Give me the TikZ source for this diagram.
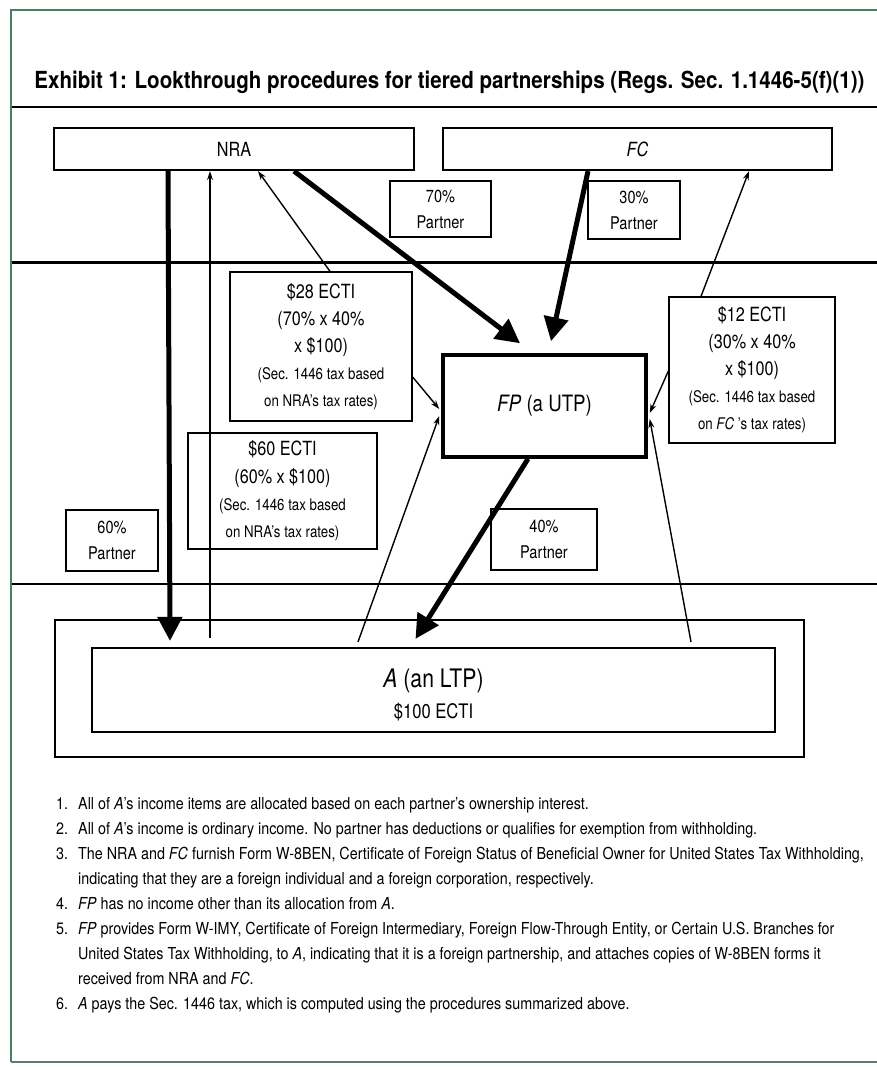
\documentclass[tikz,border=0pt]{standalone}
\usepackage{fontspec}
\setmainfont{TeX Gyre Heros}[FakeStretch=0.83]
\newfontfamily\notefont{TeX Gyre Heros}[FakeStretch=0.868]
\newfontfamily\titlefont{TeX Gyre Heros}[FakeStretch=0.875]
\usetikzlibrary{arrows.meta}
\definecolor{framegreen}{RGB}{70,128,92}
\newcommand{\bigtxt}{\fontsize{19.5}{27}\selectfont}
\newcommand{\smalltxt}{\fontsize{16}{22}\selectfont}
\newcommand{\parttxt}{\fontsize{17.5}{26}\selectfont}
\tikzset{
  party/.style={draw, line width=2.2pt, minimum height=42pt, inner sep=0pt, font=\bigtxt},
  share/.style={draw, line width=1.3pt, inner sep=0pt, align=center, font=\parttxt},
  ecti/.style={draw, line width=1.3pt, inner sep=0pt, align=center, font=\bigtxt},
  fatarrow/.style={line width=5pt, -{Triangle[length=24pt,width=24pt]}},
  thinarrow/.style={line width=1.4pt, -{Stealth[length=9pt,width=6pt]}},
  divider/.style={line width=2pt}
}
\begin{document}
\begin{tikzpicture}[x=1pt,y=-1pt]
    \useasboundingbox (0,0) rectangle (877,1067);
    % frame and rules
    \draw[framegreen, line width=2.5pt] (877,10) -- (11,10) -- (11,1062);
    \draw[framegreen!60!gray, line width=2pt] (11,1062) -- (877,1062);
    \draw[divider] (12,107) -- (877,107);
    \draw[divider, line width=3pt] (12,262) -- (877,262);
    \draw[divider] (12,584) -- (877,584);

    \node[font=\titlefont\fontsize{23.5}{28}\selectfont\bfseries] (title) at (449.5,82)
        {Exhibit 1: Lookthrough procedures for tiered partnerships (Regs. Sec. 1.1446-5(f)(1))};

    % partners
    \node[party, minimum width=360pt] (NRA) at (234,149) {NRA};
    \node[party, minimum width=389pt] (FC) at (637.5,149) {\textit{FC}};
    \node[share, minimum width=101pt, minimum height=56pt] (p70) at (440.5,209) {70\%\\Partner};
    \node[share, minimum width=92pt, minimum height=58pt] (p30) at (634,210) {30\%\\Partner};

    % upper tier partnership
    \node[draw, line width=3.5pt, minimum width=203pt, minimum height=102pt,
          font=\fontsize{22.5}{28}\selectfont] (FP) at (544.5,406) {\textit{FP} (a UTP)};
    \node[ecti, minimum width=182pt, minimum height=149pt] (e28) at (321,346.5)
        {\$28 ECTI\\(70\% x 40\%\\x \$100)\\\smalltxt (Sec. 1446 tax based\\\smalltxt on NRA’s tax rates)};
    \node[ecti, minimum width=166pt, minimum height=146pt] (e12) at (752,370)
        {\$12 ECTI\\(30\% x 40\%\\x \$100)\\\smalltxt (Sec. 1446 tax based\\\smalltxt on \textit{FC} ’s tax rates)};
    \node[ecti, minimum width=189pt, minimum height=116pt] (e60) at (282.5,491)
        {\$60 ECTI\\[1pt](60\% x \$100)\\\smalltxt (Sec. 1446 tax based\\\smalltxt on NRA’s tax rates)};
    \node[share, minimum width=92pt, minimum height=61pt] (p60) at (112,540.5) {60\%\\Partner};
    \node[share, minimum width=106pt, minimum height=61pt] (p40) at (544,539.5) {40\%\\Partner};

    % lower tier partnership
    \node[draw, line width=2.2pt, minimum width=749pt, minimum height=137pt] (Aout) at (429.5,688.5) {};
    \node[draw, line width=2.2pt, minimum width=683pt, minimum height=84pt,
          label={[align=center, yshift=-5pt]center:{\fontsize{25.5}{30}\selectfont\textit{A} (an LTP)\\[10pt]\fontsize{20}{24}\selectfont\$100 ECTI}}]
          (Ain) at (433.5,690) {};

    % ownership and income flows
    \draw[fatarrow] ([xshift=-66pt]NRA.south) -- ([xshift=-263.5pt,yshift=6pt]Ain.north);
    \draw[thinarrow] ([xshift=-223.5pt,yshift=9pt]Ain.north) -- ([xshift=-24pt]NRA.south);
    \draw[thinarrow] ([xshift=9pt]e28.north) -- ([xshift=24pt]NRA.south);
    \draw[fatarrow] ([xshift=60pt]NRA.south) -- ([xshift=-24.5pt,yshift=10pt]FP.north);
    \draw[fatarrow] ([xshift=-49.5pt]FC.south) -- ([xshift=6.5pt,yshift=12pt]FP.north);
    \draw[thinarrow] ([xshift=-51pt]e12.north) -- ([xshift=111.5pt]FC.south);
    \draw[thinarrow] ([yshift=-30.5pt]e28.east) -- ([xshift=-2pt,yshift=-3pt]FP.west);
    \draw[thinarrow] ([yshift=-1pt]e12.west) -- ([xshift=2pt,yshift=-7pt]FP.east);
    \draw[thinarrow] ([xshift=-75.5pt,yshift=5pt]Ain.north) -- ([xshift=-2pt,yshift=-10pt]FP.west);
    \draw[thinarrow] ([xshift=257.5pt,yshift=5pt]Ain.north) -- ([xshift=2pt,yshift=-13pt]FP.east);
    \draw[fatarrow] ([xshift=-16.5pt]FP.south) -- ([xshift=-18pt,yshift=8pt]Ain.north);

    % notes
    \node[anchor=north west, inner sep=0pt, font=\notefont\fontsize{16.5}{25}\selectfont] (notes) at (56,792)
        {\renewcommand{\arraystretch}{1}%
         \begin{tabular}{@{}p{22pt}@{}l@{}}
         1. & All of \textit{A}’s income items are allocated based on each partner’s ownership interest.\\
         2. & All of \textit{A}’s income is ordinary income. No partner has deductions or qualifies for exemption from withholding.\\
         3. & The NRA and \textit{FC} furnish Form W-8BEN, Certificate of Foreign Status of Beneficial Owner for United States Tax Withholding,\\
            & indicating that they are a foreign individual and a foreign corporation, respectively.\\
         4. & \textit{FP} has no income other than its allocation from \textit{A}.\\
         5. & \textit{FP} provides Form W-IMY, Certificate of Foreign Intermediary, Foreign Flow-Through Entity, or Certain U.S. Branches for\\
            & United States Tax Withholding, to \textit{A}, indicating that it is a foreign partnership, and attaches copies of W-8BEN forms it\\
            & received from NRA and \textit{FC}.\\
         6. & \textit{A} pays the Sec. 1446 tax, which is computed using the procedures summarized above.
         \end{tabular}};
\end{tikzpicture}
\end{document}
